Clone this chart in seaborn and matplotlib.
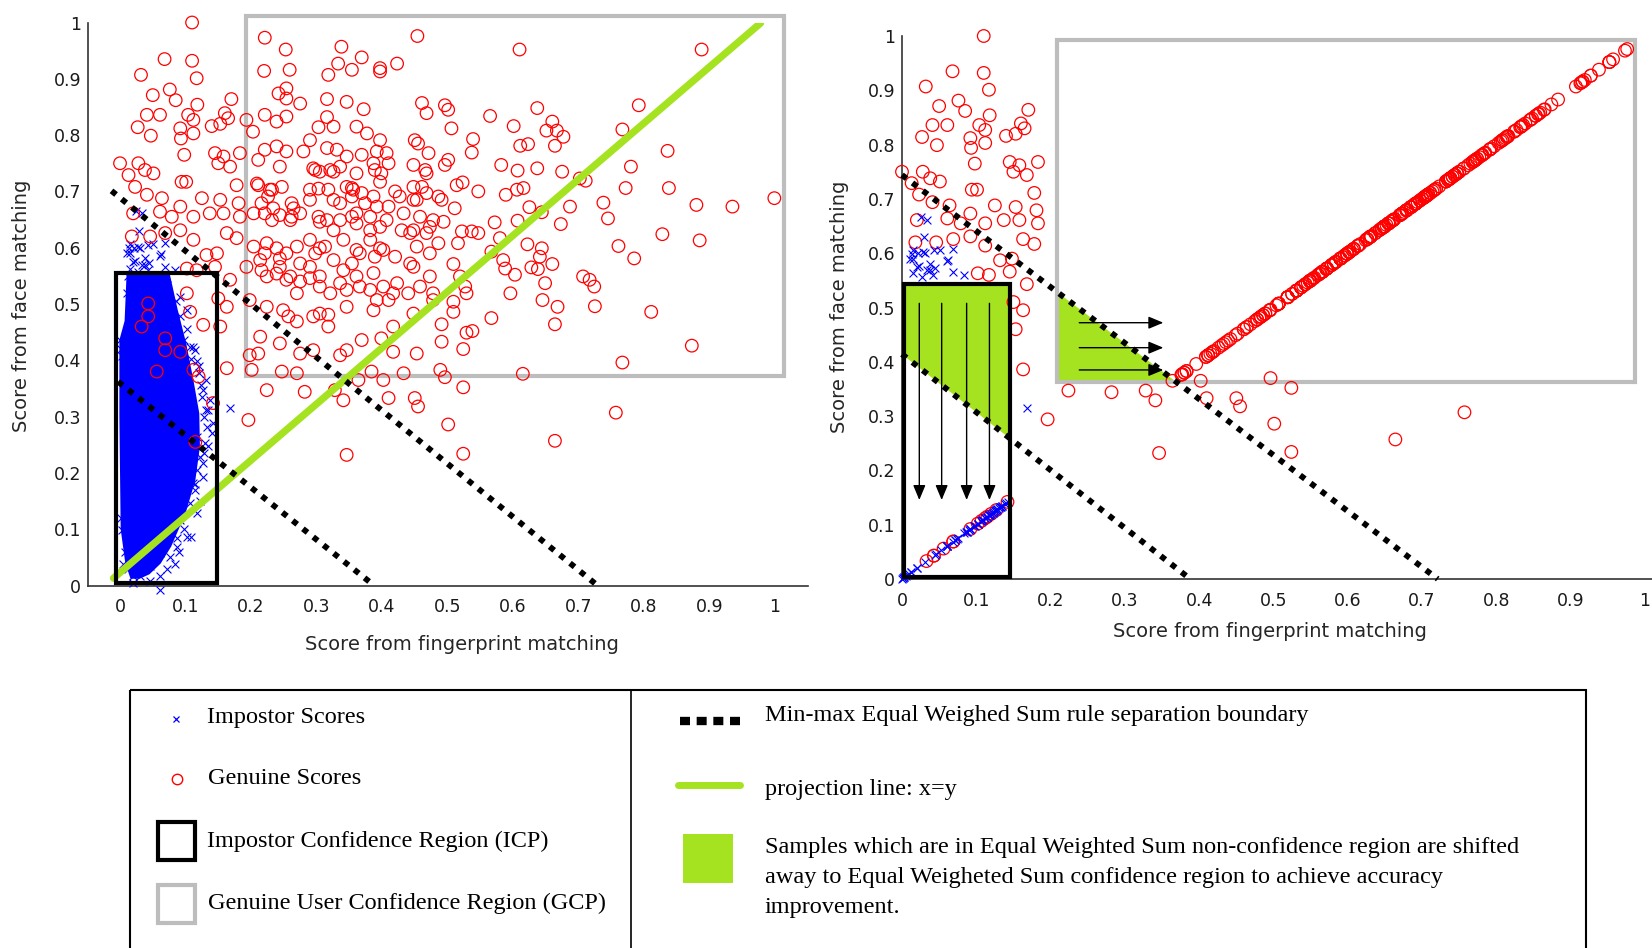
import numpy as np
import matplotlib
matplotlib.use("Agg")
import matplotlib.pyplot as plt
from matplotlib.patches import Rectangle
from matplotlib.lines import Line2D
from matplotlib.ticker import FixedLocator, FuncFormatter
import seaborn as sns

sns.set_theme(style="white")
plt.rcParams["font.family"] = ["DejaVu Sans"]

# ---------------------------------------------------------------------------
# Genuine user scores: (fingerprint score, face score)
# ---------------------------------------------------------------------------
genuine_scores = [
    (0.110, 1.000), (0.221, 0.973), (0.454, 0.976), (0.253, 0.952), (0.338, 0.957),
    (0.369, 0.938), (0.068, 0.935), (0.110, 0.932), (0.333, 0.927), (0.220, 0.914),
    (0.259, 0.916), (0.318, 0.907), (0.354, 0.916), (0.397, 0.919), (0.397, 0.913),
    (0.423, 0.927), (0.032, 0.907), (0.117, 0.901), (0.076, 0.881), (0.050, 0.871),
    (0.085, 0.862), (0.118, 0.854), (0.170, 0.864), (0.242, 0.874), (0.254, 0.883),
    (0.254, 0.865), (0.275, 0.856), (0.316, 0.864), (0.316, 0.832), (0.346, 0.859),
    (0.372, 0.846), (0.461, 0.857), (0.468, 0.839), (0.041, 0.836), (0.061, 0.836),
    (0.027, 0.814), (0.047, 0.799), (0.092, 0.812), (0.104, 0.836), (0.112, 0.827),
    (0.112, 0.803), (0.093, 0.794), (0.140, 0.816), (0.153, 0.820), (0.160, 0.839),
    (0.165, 0.830), (0.193, 0.827), (0.203, 0.806), (0.221, 0.836), (0.239, 0.824),
    (0.254, 0.833), (0.303, 0.814), (0.326, 0.815), (0.361, 0.815), (0.377, 0.803),
    (0.397, 0.791), (0.450, 0.791), (0.455, 0.785), (0.098, 0.765), (0.145, 0.768),
    (0.158, 0.762), (0.183, 0.768), (0.221, 0.774), (0.239, 0.780), (0.254, 0.771),
    (0.280, 0.771), (0.290, 0.791), (0.316, 0.777), (0.331, 0.774), (0.346, 0.762),
    (0.369, 0.765), (0.392, 0.771), (0.407, 0.768), (0.471, 0.768), (0.000, 0.750),
    (0.028, 0.750), (0.038, 0.738), (0.051, 0.732), (0.013, 0.729), (0.094, 0.717),
    (0.101, 0.717), (0.150, 0.750), (0.168, 0.744), (0.178, 0.711), (0.211, 0.756),
    (0.244, 0.744), (0.298, 0.738), (0.321, 0.738), (0.336, 0.744), (0.361, 0.732),
    (0.389, 0.738), (0.410, 0.750), (0.448, 0.747), (0.466, 0.738), (0.023, 0.708),
    (0.041, 0.694), (0.064, 0.688), (0.092, 0.673), (0.125, 0.688), (0.153, 0.685),
    (0.181, 0.679), (0.211, 0.711), (0.229, 0.703), (0.247, 0.708), (0.216, 0.679),
    (0.234, 0.670), (0.262, 0.679), (0.290, 0.703), (0.318, 0.703), (0.326, 0.685),
    (0.354, 0.706), (0.369, 0.697), (0.374, 0.679), (0.392, 0.673), (0.410, 0.673),
    (0.427, 0.691), (0.448, 0.708), (0.453, 0.685), (0.468, 0.697), (0.486, 0.691),
    (0.020, 0.661), (0.061, 0.664), (0.079, 0.655), (0.112, 0.655), (0.137, 0.661),
    (0.158, 0.661), (0.183, 0.655), (0.204, 0.661), (0.221, 0.661), (0.244, 0.658),
    (0.260, 0.649), (0.275, 0.661), (0.303, 0.655), (0.316, 0.649), (0.336, 0.649),
    (0.361, 0.661), (0.382, 0.655), (0.407, 0.649), (0.433, 0.661), (0.458, 0.655),
    (0.478, 0.649), (0.018, 0.620), (0.046, 0.620), (0.069, 0.626), (0.092, 0.631),
    (0.112, 0.614), (0.132, 0.587), (0.148, 0.590), (0.163, 0.626), (0.178, 0.617),
    (0.204, 0.602), (0.224, 0.608), (0.239, 0.599), (0.254, 0.590), (0.270, 0.602),
    (0.290, 0.614), (0.305, 0.599), (0.326, 0.631), (0.341, 0.614), (0.361, 0.596),
    (0.382, 0.614), (0.397, 0.599), (0.420, 0.584), (0.443, 0.626), (0.468, 0.626),
    (0.486, 0.608), (0.102, 0.563), (0.117, 0.560), (0.145, 0.566), (0.168, 0.543),
    (0.193, 0.566), (0.214, 0.578), (0.224, 0.549), (0.244, 0.566), (0.254, 0.543),
    (0.270, 0.519), (0.290, 0.566), (0.305, 0.549), (0.321, 0.519), (0.341, 0.560),
    (0.361, 0.549), (0.387, 0.555), (0.402, 0.531), (0.423, 0.537), (0.448, 0.566),
    (0.473, 0.549), (0.102, 0.519), (0.150, 0.510), (0.163, 0.495), (0.198, 0.507),
    (0.224, 0.495), (0.249, 0.489), (0.305, 0.483), (0.346, 0.495), (0.387, 0.489),
    (0.417, 0.519), (0.448, 0.483), (0.478, 0.507), (0.043, 0.501), (0.043, 0.478),
    (0.107, 0.486), (0.127, 0.463), (0.153, 0.460), (0.214, 0.442), (0.257, 0.478),
    (0.270, 0.469), (0.295, 0.478), (0.318, 0.481), (0.318, 0.460), (0.417, 0.460),
    (0.198, 0.409), (0.211, 0.412), (0.244, 0.430), (0.275, 0.412), (0.295, 0.418),
    (0.336, 0.409), (0.346, 0.418), (0.369, 0.436), (0.384, 0.380), (0.399, 0.439),
    (0.417, 0.415), (0.453, 0.412), (0.163, 0.386), (0.201, 0.383), (0.224, 0.347),
    (0.247, 0.380), (0.270, 0.377), (0.282, 0.344), (0.328, 0.347), (0.341, 0.329),
    (0.364, 0.365), (0.402, 0.365), (0.410, 0.333), (0.433, 0.377), (0.450, 0.333),
    (0.455, 0.318), (0.196, 0.294), (0.142, 0.324), (0.346, 0.232), (0.033, 0.460),
    (0.069, 0.439), (0.069, 0.418), (0.092, 0.415), (0.056, 0.380), (0.112, 0.383),
    (0.120, 0.371), (0.115, 0.255),
    (0.295, 0.741), (0.305, 0.735), (0.326, 0.735), (0.387, 0.750), (0.399, 0.732),
    (0.468, 0.732), (0.209, 0.714), (0.232, 0.703), (0.303, 0.705), (0.346, 0.708),
    (0.356, 0.703), (0.397, 0.717), (0.420, 0.700), (0.461, 0.708), (0.226, 0.691),
    (0.265, 0.670), (0.290, 0.685), (0.336, 0.679), (0.354, 0.691), (0.387, 0.691),
    (0.448, 0.685), (0.232, 0.649), (0.262, 0.655), (0.305, 0.646), (0.354, 0.655),
    (0.361, 0.643), (0.382, 0.631), (0.397, 0.637), (0.430, 0.631), (0.448, 0.631),
    (0.473, 0.637), (0.221, 0.590), (0.244, 0.581), (0.275, 0.572), (0.298, 0.590),
    (0.313, 0.602), (0.326, 0.578), (0.354, 0.572), (0.366, 0.590), (0.389, 0.584),
    (0.402, 0.596), (0.443, 0.572), (0.453, 0.602), (0.473, 0.590), (0.216, 0.560),
    (0.239, 0.554), (0.260, 0.549), (0.275, 0.540), (0.290, 0.546), (0.305, 0.531),
    (0.336, 0.537), (0.346, 0.525), (0.366, 0.531), (0.382, 0.525), (0.392, 0.507),
    (0.410, 0.507), (0.440, 0.519), (0.458, 0.531), (0.478, 0.519),
    (0.610, 0.952), (0.888, 0.952), (0.792, 0.853), (0.637, 0.848), (0.565, 0.834),
    (0.496, 0.853), (0.501, 0.845), (0.601, 0.816), (0.660, 0.824), (0.651, 0.808),
    (0.667, 0.808), (0.677, 0.797), (0.664, 0.781), (0.767, 0.810), (0.506, 0.812),
    (0.539, 0.793), (0.537, 0.769), (0.611, 0.781), (0.623, 0.784), (0.836, 0.772),
    (0.501, 0.756), (0.496, 0.747), (0.582, 0.747), (0.607, 0.737), (0.637, 0.741),
    (0.675, 0.735), (0.780, 0.744), (0.702, 0.723), (0.711, 0.719), (0.514, 0.711),
    (0.523, 0.716), (0.547, 0.700), (0.589, 0.694), (0.606, 0.703), (0.616, 0.706),
    (0.772, 0.706), (0.838, 0.706), (0.999, 0.688), (0.491, 0.685), (0.511, 0.670),
    (0.625, 0.672), (0.644, 0.663), (0.687, 0.673), (0.738, 0.680), (0.745, 0.652),
    (0.880, 0.676), (0.935, 0.673), (0.494, 0.646), (0.572, 0.645), (0.607, 0.648),
    (0.673, 0.642), (0.522, 0.629), (0.537, 0.629), (0.547, 0.626), (0.516, 0.608),
    (0.580, 0.617), (0.622, 0.606), (0.828, 0.624), (0.885, 0.613), (0.761, 0.603),
    (0.567, 0.593), (0.644, 0.599), (0.641, 0.584), (0.509, 0.571), (0.585, 0.578),
    (0.588, 0.563), (0.660, 0.571), (0.628, 0.565), (0.638, 0.562), (0.785, 0.581),
    (0.603, 0.552), (0.519, 0.549), (0.707, 0.549), (0.717, 0.543), (0.724, 0.531),
    (0.649, 0.537), (0.529, 0.519), (0.527, 0.531), (0.596, 0.519), (0.509, 0.504),
    (0.509, 0.486), (0.645, 0.507), (0.668, 0.495), (0.725, 0.496), (0.811, 0.486),
    (0.567, 0.475), (0.491, 0.464), (0.664, 0.464), (0.529, 0.449), (0.538, 0.452),
    (0.491, 0.433), (0.524, 0.420), (0.873, 0.426), (0.767, 0.396), (0.489, 0.383),
    (0.496, 0.370), (0.615, 0.376), (0.524, 0.352), (0.757, 0.307), (0.501, 0.286),
    (0.664, 0.257), (0.524, 0.234),
]

# Impostor scores lying outside the dense impostor cloud
impostor_scores = [
    (0.112, 0.424), (0.097, 0.436), (0.120, 0.389), (0.132, 0.365), (0.125, 0.335),
    (0.135, 0.312), (0.142, 0.288), (0.140, 0.270), (0.130, 0.253), (0.122, 0.229),
    (0.117, 0.205), (0.127, 0.193), (0.112, 0.182), (0.115, 0.170), (0.107, 0.146),
    (0.092, 0.116), (0.102, 0.087), (0.109, 0.087), (0.087, 0.069), (0.074, 0.087),
    (0.053, 0.075), (0.084, 0.039), (0.061, 0.057), (0.046, 0.034), (0.031, 0.016),
    (0.020, 0.004), (0.061, -0.008), (0.168, 0.315), (0.015, 0.590), (0.028, 0.602),
    (0.061, 0.585), (0.069, 0.566), (0.023, 0.577), (0.038, 0.569), (0.043, 0.605),
    (0.013, 0.599), (0.033, 0.661), (0.071, 0.534), (0.061, 0.519), (0.069, 0.513),
    (0.107, 0.424), (0.115, 0.418), (0.120, 0.377), (0.127, 0.347), (0.132, 0.312),
    (0.117, 0.264), (0.127, 0.217), (0.115, 0.181), (0.087, 0.084), (0.076, 0.051),
    (0.061, 0.016), (0.020, 0.016), (0.005, 0.039), (0.003, 0.099), (0.000, 0.436),
    (0.003, 0.407), (0.069, 0.608), (0.084, 0.560), (0.092, 0.513), (0.102, 0.489),
    (0.001, 0.420), (0.002, 0.120), (0.008, 0.060), (0.012, 0.030), (0.010, 0.520),
    (0.012, 0.550),
    (0.025, 0.666), (0.015, 0.606), (0.029, 0.630), (0.011, 0.590), (0.020, 0.575),
    (0.033, 0.569), (0.027, 0.557), (0.042, 0.560), (0.038, 0.581), (0.051, 0.606),
    (0.062, 0.588), (0.022, 0.600), (0.031, 0.600), (0.044, 0.572), (0.015, 0.563),
    (0.086, 0.505), (0.092, 0.478), (0.102, 0.455), (0.108, 0.402), (0.117, 0.398),
    (0.124, 0.356), (0.128, 0.300), (0.135, 0.248), (0.128, 0.235), (0.122, 0.150),
    (0.118, 0.128), (0.098, 0.100), (0.090, 0.060), (0.072, 0.030), (0.045, 0.008),
    (0.138, 0.330), (0.133, 0.282),
]

# Outline of the dense impostor score cloud inside the impostor region
impostor_core_fp = [0.010, 0.076, 0.088, 0.101, 0.112, 0.121, 0.122, 0.115,
                    0.100, 0.078, 0.062, 0.045, 0.030, 0.016, 0.008, 0.001,
                    -0.001, -0.001, 0.007]
impostor_core_face = [0.553, 0.553, 0.490, 0.430, 0.365, 0.306, 0.247, 0.187,
                      0.128, 0.069, 0.039, 0.020, 0.012, 0.012, 0.040, 0.100,
                      0.300, 0.436, 0.470]

# Min-max equal weighted sum separation boundaries (end points)
left_boundary_upper = ([-0.013, 0.729], [0.701, 0.0])
left_boundary_lower = ([-0.003, 0.388], [0.362, 0.0])
right_boundary_upper = ([0.0, 0.721], [0.744, 0.0])
right_boundary_lower = ([0.0, 0.388], [0.414, 0.0])

# Projection line x = y
projection_fp = [-0.010, 0.978]
projection_face = [0.013, 0.999]

# Confidence regions (fingerprint min/max, face min/max)
icp_region = (-0.006, 0.148, -0.02, 0.555)
gcp_region = (0.192, 1.014, 0.372, 1.012)
icp_region_fused = (0.003, 0.146, 0.003, 0.543)
gcp_region_fused = (0.209, 0.987, 0.362, 0.993)

TICKS = [round(0.1 * i, 1) for i in range(11)]

BLUE = "#0000ff"
RED = "#ff0000"
GREEN = "#a5e21f"
GRAY = "#bdbdbd"


def shift_to_projection(points):
    """Move scores inside a confidence region onto the x = y projection line."""
    pts = np.asarray(points, dtype=float)
    fp, face = pts[:, 0], pts[:, 1]
    in_gcp = (fp >= gcp_region[0]) & (face >= gcp_region[2])
    in_icp = (fp <= icp_region[1]) & (face <= icp_region[3])
    new_fp = np.where(in_gcp, face, fp)
    new_face = np.where(in_icp, fp, face)
    return new_fp, new_face


def style_axes(ax, xlim):
    ax.set_xlim(*xlim)
    ax.set_ylim(0, 1)
    for side in ("top", "right"):
        ax.spines[side].set_visible(False)
    for side in ("left", "bottom"):
        ax.spines[side].set_color("#333333")
        ax.spines[side].set_linewidth(1.2)
    ax.xaxis.set_major_locator(FixedLocator(TICKS))
    ax.yaxis.set_major_locator(FixedLocator(TICKS))
    fmt = FuncFormatter(lambda v, p: "%g" % round(v, 1))
    ax.xaxis.set_major_formatter(fmt)
    ax.yaxis.set_major_formatter(fmt)
    ax.tick_params(direction="in", length=4.5, width=1.0, color="#333333",
                   labelcolor="#1a1a1a", labelsize=12.5)
    ax.tick_params(axis="x", pad=9)
    ax.tick_params(axis="y", pad=5)
    ax.set_facecolor("white")
    ax.grid(False)


def region_box(ax, region, color, z):
    x0, x1, y0, y1 = region
    ax.add_patch(Rectangle((x0, max(y0, 0.004)), x1 - x0, y1 - max(y0, 0.004),
                           fill=False, ec=color, lw=3.0, zorder=z, clip_on=False))


def boundary(ax, line):
    ax.plot(line[0], line[1], color="black", lw=4.2, linestyle=(0, (1, 1.25)),
            dash_capstyle="butt", zorder=6, clip_on=False)


fig = plt.figure(figsize=(16.52, 9.48), dpi=100)
fig.patch.set_facecolor("white")

# ---------------------------------------------------------------- left panel
ax1 = fig.add_axes([0.05327, 0.38238, 0.43584, 0.59388])
style_axes(ax1, (-0.0489, 1.0504))

g = np.asarray(genuine_scores)
imp = np.asarray(impostor_scores)

region_box(ax1, gcp_region, GRAY, 2)
ax1.fill(impostor_core_fp, impostor_core_face, color=BLUE, lw=0, zorder=2)
sns.scatterplot(x=imp[:, 0], y=imp[:, 1], marker="x", color=BLUE, s=32,
                linewidth=0.8, ax=ax1, legend=False, zorder=3, clip_on=False)
sns.scatterplot(x=g[:, 0], y=g[:, 1], marker="o", facecolor="none",
                edgecolor=RED, s=82, linewidth=0.9, ax=ax1, legend=False,
                zorder=4, clip_on=False)
ax1.plot(projection_fp, projection_face, color=GREEN, lw=5.2,
         solid_capstyle="round", zorder=5)
boundary(ax1, left_boundary_upper)
boundary(ax1, left_boundary_lower)
region_box(ax1, icp_region, "black", 7)

ax1.set_xlabel("Score from fingerprint matching", fontsize=14, va="center")
ax1.set_ylabel("Score from face matching", fontsize=14, va="center")
ax1.xaxis.set_label_coords(0.519, -0.104)
ax1.yaxis.set_label_coords(-0.093, 0.4965)

# --------------------------------------------------------------- right panel
ax2 = fig.add_axes([0.54600, 0.38924, 0.45400, 0.57278])
style_axes(ax2, (0.0, 1.0094))


def line_at(line, x):
    (xa, xb), (ya, yb) = line
    return ya + (yb - ya) * (np.asarray(x) - xa) / (xb - xa)


# shifted part of the impostor confidence region
ix0, ix1, iy0, iy1 = icp_region_fused
xs = np.array([ix0, ix1])
ax2.fill_between(xs, line_at(right_boundary_lower, xs), iy1, color=GREEN, lw=0,
                 zorder=1)
# shifted part of the genuine confidence region
gx0, gx1, gy0, gy1 = gcp_region_fused
(ua, ub), (va_, vb) = right_boundary_upper
x_cross = ua + (gy0 - va_) * (ub - ua) / (vb - va_)
xs = np.array([gx0, x_cross])
ax2.fill_between(xs, gy0, line_at(right_boundary_upper, xs), color=GREEN, lw=0,
                 zorder=1)

region_box(ax2, gcp_region_fused, GRAY, 2)

gf_fp, gf_face = shift_to_projection(genuine_scores)
if_fp, if_face = shift_to_projection(impostor_scores)
sns.scatterplot(x=gf_fp, y=gf_face, marker="o", facecolor="none",
                edgecolor=RED, s=82, linewidth=0.9, ax=ax2, legend=False,
                zorder=3, clip_on=False)
sns.scatterplot(x=if_fp, y=if_face, marker="x", color=BLUE, s=32,
                linewidth=0.8, ax=ax2, legend=False, zorder=4, clip_on=False)

boundary(ax2, right_boundary_upper)
boundary(ax2, right_boundary_lower)
region_box(ax2, icp_region_fused, "black", 7)

arrow_kw = dict(arrowstyle="-|>,head_length=0.6,head_width=0.25", color="black",
                lw=1.0, shrinkA=0, shrinkB=0, mutation_scale=15)
for ax_x in [0.0233, 0.0534, 0.0870, 0.1177]:
    ax2.annotate("", xy=(ax_x, 0.1455), xytext=(ax_x, 0.5077),
                 arrowprops=arrow_kw, zorder=8)
for ax_y in [0.472, 0.426, 0.385]:
    ax2.annotate("", xy=(0.3517, ax_y), xytext=(0.2386, ax_y),
                 arrowprops=arrow_kw, zorder=8)

ax2.set_xlabel("Score from fingerprint matching", fontsize=14, va="center")
ax2.set_ylabel("Score from face matching", fontsize=14, va="center")
ax2.xaxis.set_label_coords(0.490, -0.0976)
ax2.yaxis.set_label_coords(-0.0827, 0.501)

# -------------------------------------------------------------------- legend
leg = fig.add_axes([0, 0, 1, 1], zorder=20)
leg.set_xlim(0, 1652)
leg.set_ylim(948, 0)
leg.axis("off")
leg.patch.set_alpha(0)

leg.add_patch(Rectangle((130, 690), 1586 - 130, 300, fill=False, ec="black",
                        lw=1.5))
leg.plot([631, 631], [690, 948], color="black", lw=1.2)

serif = dict(family=["Liberation Serif", "DejaVu Serif"], fontsize=17.5,
             color="black", va="center")

leg.plot([176], [719], marker="x", color=BLUE, ms=5, mew=0.9, ls="none")
leg.text(207, 717, "Impostor Scores", **serif)
leg.plot([177], [779], marker="o", mfc="none", mec=RED, ms=7.5, mew=1.0,
         ls="none")
leg.text(208, 779, "Genuine Scores", **serif)
leg.add_patch(Rectangle((158, 822), 37, 38, fill=False, ec="black", lw=3.0))
leg.text(207, 841, "Impostor Confidence Region (ICP)", **serif)
leg.add_patch(Rectangle((158, 885), 37, 38, fill=False, ec=GRAY, lw=3.0))
leg.text(208, 903, "Genuine User Confidence Region (GCP)", **serif)

leg.add_line(Line2D([680, 740], [721, 721], color="black", lw=6,
                    dashes=(1.2, 0.8), dash_capstyle="butt"))
leg.text(765, 716, "Min-max Equal Weighed Sum rule separation boundary", **serif)
leg.add_line(Line2D([678, 740], [785, 785], color=GREEN, lw=5))
leg.text(765, 789, "projection line: x=y", **serif)
leg.add_patch(Rectangle((683, 834), 50, 49, color=GREEN, lw=0))
leg.text(765, 847, "Samples which are in Equal Weighted Sum non-confidence "
                   "region are shifted", **serif)
leg.text(765, 878, "away to Equal Weigheted Sum confidence region to achieve "
                   "accuracy", **serif)
leg.text(765, 908, "improvement.", **serif)

fig.savefig("out.png", dpi=100, facecolor="white")
